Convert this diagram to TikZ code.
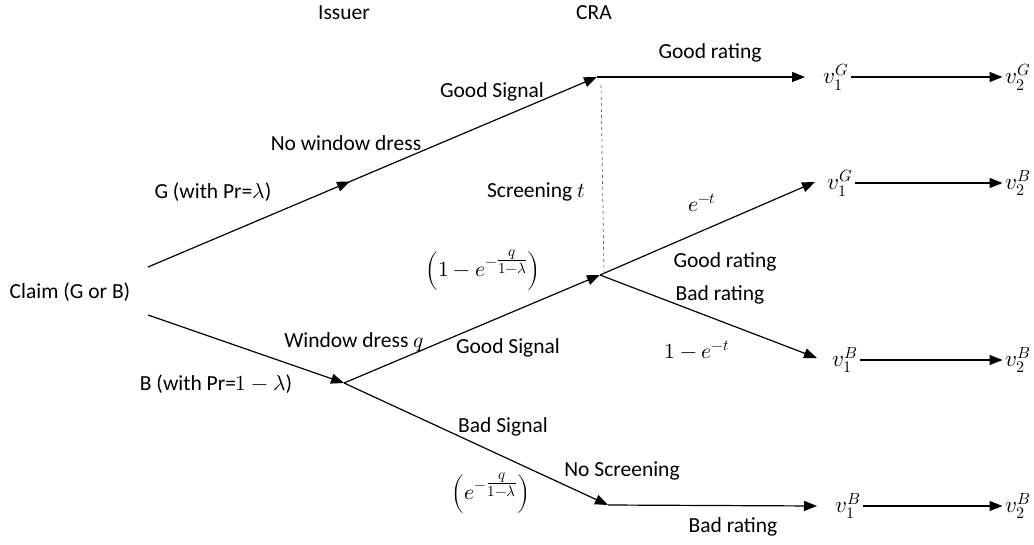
\documentclass[tikz,border=0pt]{standalone}
\usepackage{fontspec}
\usepackage{unicode-math}
\setmainfont{Carlito}
\usetikzlibrary{arrows.meta,decorations.markings}
\newcommand{\expfrac}[2]{\genfrac{}{}{}{1}{#1}{#2}}
\begin{document}
\begin{tikzpicture}[x=1pt,y=-1pt,
  lbl/.style={inner sep=0pt,font=\fontsize{21.5}{24}\selectfont},
  vnode/.style={inner sep=3pt,font=\fontsize{23}{26}\selectfont},
  tip/.style={-{Triangle[length=13pt,width=10pt]}},
  br/.style={line width=1.2pt},
  midtip/.style={postaction={decorate,decoration={markings,
     mark=at position #1 with {\arrow{Triangle[length=13pt,width=10pt]}}}}},
  ]
\useasboundingbox (0,0) rectangle (1034,544);
% headers
\node[lbl] (issuer) at (344,13) {Issuer};
\node[lbl] (cra) at (594,13) {CRA};
% root
\node[lbl] (claim) at (70,292) {Claim (G or B)};
\coordinate (gs) at (148,267);
\coordinate (bs) at (148,315);
\coordinate (top) at (597,77);
\coordinate (bnode) at (344,383);
\coordinate (mid) at (600,275);
\coordinate (bot) at (608,505);
% rating tips
\coordinate (r1) at (805,77);
\coordinate (r2) at (815,182);
\coordinate (r3) at (817,358);
\coordinate (r4) at (817,506);
% outcome nodes
\node[vnode] (v1a) at (836,77) {$v_1^G$};
\node[vnode] (v2a) at (1018,77) {$v_2^G$};
\node[vnode] (v1b) at (840,183) {$v_1^G$};
\node[vnode] (v2b) at (1018,183) {$v_2^B$};
\node[vnode] (v1c) at (845,360) {$v_1^B$};
\node[vnode] (v2c) at (1018,360) {$v_2^B$};
\node[vnode] (v1d) at (848,506) {$v_1^B$};
\node[vnode] (v2d) at (1018,506) {$v_2^B$};
% branches
\draw[br,tip,midtip=0.45] (gs) -- (top);
\draw[br,tip] (bs) -- (bnode);
\draw[br,tip] (bnode) -- (mid);
\draw[br,tip] (bnode) -- (bot);
\draw[br,tip] (top) -- (r1);
\draw[br,tip] (mid) -- (r2);
\draw[br,tip] (mid) -- (r3);
\draw[br,tip] (bot) -- (r4);
\draw[gray!80!black,dashed,line width=0.7pt] (top) ++(4,8) -- ([xshift=4pt]mid);
% outcome arrows
\draw[br,tip] (v1a.east) -- (v2a.west);
\draw[br,tip] (v1b.east) -- (v2b.west);
\draw[br,tip] (v1c.east) -- (v2c.west);
\draw[br,tip] (v1d.east) -- (v2d.west);
% labels
\node[lbl] (lgs1) at (492,92) {Good Signal};
\node[lbl] (lnwd) at (346,143) {No window dress};
\node[lbl] (lg) at (213,192) {G (with Pr=$\lambda$)};
\node[lbl] (lscr) at (536,192) {Screening $t$};
\node[lbl] (lp1) at (483,270) {$\left(1-e^{-\expfrac{q}{1-\lambda}}\right)$};
\node[lbl] (lgr1) at (710,53) {Good rating};
\node[lbl] (let) at (702,203) {$e^{-t}$};
\node[lbl] (lgr2) at (725,262) {Good rating};
\node[lbl] (lbr1) at (720,295) {Bad rating};
\node[lbl] (l1et) at (697,350) {$1-e^{-t}$};
\node[lbl] (lwd) at (354,342) {Window dress $q$};
\node[lbl] (lgs2) at (508,348) {Good Signal};
\node[lbl] (lb) at (216,384) {B (with Pr=$1-\lambda$)};
\node[lbl] (lbs) at (503,427) {Bad Signal};
\node[lbl] (lp2) at (491,493) {$\left(e^{-\expfrac{q}{1-\lambda}}\right)$};
\node[lbl] (lns) at (622,471) {No Screening};
\node[lbl] (lbr2) at (733,527) {Bad rating};
\end{tikzpicture}
\end{document}
